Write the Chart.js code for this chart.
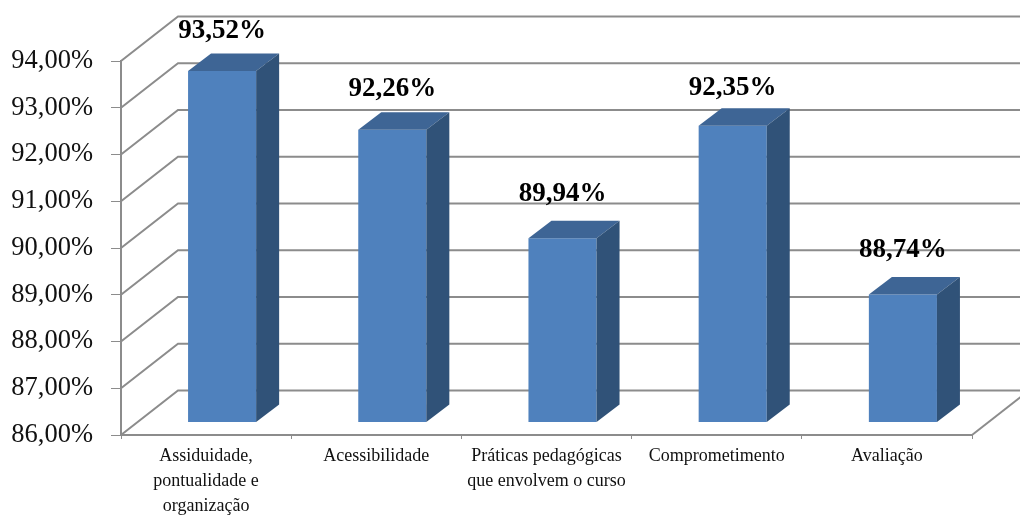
<!DOCTYPE html>
<html>
<head>
<meta charset="utf-8">
<style>
  html, body { margin: 0; padding: 0; background: #fff; }
  canvas { display: block; }
</style>
<script src="https://cdn.jsdelivr.net/npm/chart.js@4"></script>
</head>
<body>
<canvas id="myChart" width="1020" height="516"></canvas>
<script>
var categories = [
  ['Assiduidade,', 'pontualidade e', 'organização'],
  'Acessibilidade',
  ['Práticas pedagógicas', 'que envolvem o curso'],
  'Comprometimento',
  'Avaliação'
];
var values = [93.52, 92.26, 89.94, 92.35, 88.74];
var yMin = 86;
var yMax = 94;

function pct(v) {
  return v.toFixed(2).replace('.', ',') + '%';
}

var gridColor = '#8c8c8c';
var wallDx = 57, wallDy = 44.5;   // depth of the back wall
var barDx = 23, barDy = 17.5;     // depth of each bar
var shiftX = 16, shiftY = 12.5;   // bars stand inside the floor
var labelLift = [40, 41, 44, 38, 44];

var fake3d = {
  id: 'fake3d',
  beforeDatasetsDraw: function (chart) {
    var c = chart.ctx, a = chart.chartArea, y = chart.scales.y;
    c.save();
    c.strokeStyle = gridColor;
    c.lineWidth = 2;
    y.ticks.forEach(function (t) {
      var py = y.getPixelForValue(t.value);
      c.beginPath();
      c.moveTo(a.left, py);
      c.lineTo(a.left + wallDx, py - wallDy);
      c.lineTo(a.right + wallDx, py - wallDy);
      c.stroke();
    });
    c.beginPath();
    c.moveTo(a.right, a.bottom);
    c.lineTo(a.right + wallDx, a.bottom - wallDy);
    c.stroke();
    c.restore();
    c.save();
    c.translate(shiftX, -shiftY);
  },
  afterDatasetsDraw: function (chart) {
    var c = chart.ctx;
    chart.getDatasetMeta(0).data.forEach(function (b, i) {
      var half = b.width / 2, l = b.x - half, r = b.x + half;
      c.fillStyle = '#3e6595';
      c.beginPath();
      c.moveTo(l, b.y);
      c.lineTo(l + barDx, b.y - barDy);
      c.lineTo(r + barDx, b.y - barDy);
      c.lineTo(r, b.y);
      c.closePath();
      c.fill();
      c.fillStyle = '#305278';
      c.beginPath();
      c.moveTo(r, b.y);
      c.lineTo(r + barDx, b.y - barDy);
      c.lineTo(r + barDx, b.base - barDy);
      c.lineTo(r, b.base);
      c.closePath();
      c.fill();
    });
    c.restore();
    c.save();
    c.font = 'bold 27px "Liberation Serif"';
    c.fillStyle = '#000';
    c.textAlign = 'center';
    c.textBaseline = 'middle';
    chart.getDatasetMeta(0).data.forEach(function (b, i) {
      c.fillText(pct(values[i]), b.x + shiftX, b.y - shiftY - labelLift[i]);
    });
    c.restore();
  }
};

var ctx = document.getElementById('myChart').getContext('2d');
var myChart = new Chart(ctx, {
  type: 'bar',
  data: {
    labels: categories,
    datasets: [{
      data: values,
      base: yMin,
      backgroundColor: '#4f81bd',
      borderWidth: 0,
      barPercentage: 0.4,
      categoryPercentage: 1,
      clip: false
    }]
  },
  plugins: [fake3d],
  options: {
    responsive: false,
    animation: false,
    layout: { padding: { top: 61, right: 48, left: 0, bottom: 0 } },
    plugins: { legend: { display: false }, tooltip: { enabled: false } },
    scales: {
      x: {
        afterFit: function (s) { s.height = 81; },
        grid: { drawOnChartArea: false, color: gridColor, tickLength: 4 },
        border: { color: gridColor, width: 2 },
        ticks: {
          color: '#111',
          padding: 5,
          maxRotation: 0,
          autoSkip: false,
          font: { family: '"Liberation Serif"', size: 18, lineHeight: 1.39 }
        }
      },
      y: {
        min: yMin,
        max: yMax,
        afterFit: function (s) { s.width = 121; },
        grid: { drawOnChartArea: false, color: gridColor, tickLength: 10 },
        border: { color: gridColor, width: 2 },
        ticks: {
          stepSize: 1,
          color: '#111',
          padding: 18,
          font: { family: '"Liberation Serif"', size: 26.5 },
          callback: function (v) { return pct(v); }
        }
      }
    }
  }
});
</script>
</body>
</html>
